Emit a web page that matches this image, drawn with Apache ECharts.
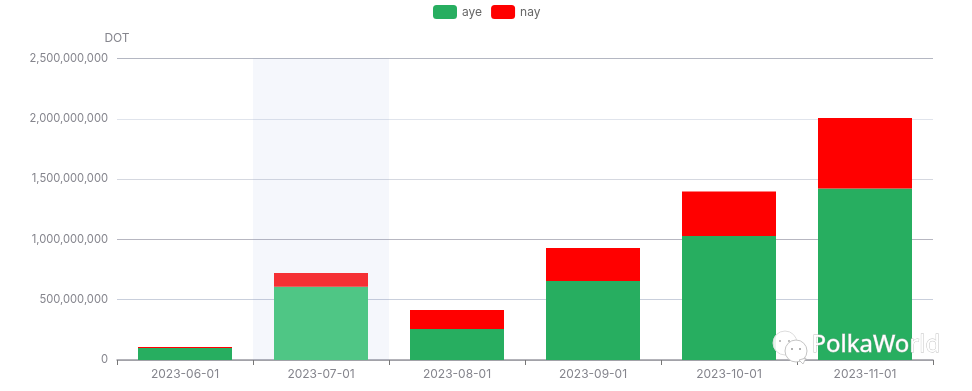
<!DOCTYPE html>
<html>
<head>
<meta charset="utf-8">
<style>
  html, body { margin: 0; padding: 0; background: #fff; }
  #main { width: 972px; height: 391px; }
</style>
<script src="https://cdn.jsdelivr.net/npm/echarts@6/dist/echarts.min.js"></script>
</head>
<body>
<div id="main"></div>
<script>
var categories = ['2023-06-01', '2023-07-01', '2023-08-01', '2023-09-01', '2023-10-01', '2023-11-01'];
var aye = [100000000, 608000000, 257000000, 655000000, 1028000000, 1422000000];
var nay = [8000000, 113000000, 158000000, 274000000, 369000000, 585000000];
var hoverIndex = 1;

var labelColor = '#85858d';
var fontName = 'Inter';

var myChart = echarts.init(document.getElementById('main'));

var option = {
  animation: false,
  textStyle: { fontFamily: fontName },
  tooltip: {
    trigger: 'axis',
    showContent: false,
    transitionDuration: 0,
    axisPointer: { type: 'shadow', shadowStyle: { color: 'rgba(130,155,215,0.08)' } }
  },
  legend: {
    top: 0,
    left: 428,
    itemGap: 9,
    itemWidth: 24,
    textStyle: { color: '#666', fontSize: 12, fontFamily: fontName },
    data: ['aye', 'nay']
  },
  grid: { left: 117, right: 39, top: 58.5, bottom: 31 },
  xAxis: {
    type: 'category',
    data: categories,
    axisLine: { lineStyle: { color: '#9a9aa2', width: 1.5 } },
    axisTick: { show: true, alignWithLabel: false, length: 5, lineStyle: { color: '#777' } },
    axisLabel: { color: labelColor, fontSize: 12, margin: 8, interval: 0 }
  },
  yAxis: {
    type: 'value',
    name: 'DOT',
    min: 0,
    max: 2500000000,
    interval: 500000000,
    nameGap: 14,
    nameTextStyle: { color: labelColor, fontSize: 12 },
    axisLine: { show: false },
    axisTick: { show: false },
    axisLabel: { color: labelColor, fontSize: 11.2, margin: 9 },
    splitLine: { lineStyle: { color: ['#bbb', '#c9cfdc', '#b7b7c1', '#d5d8e0', '#e0e4ec', '#b4b7c2'] } }
  },
  series: [
    {
      name: 'aye',
      type: 'bar',
      stack: 'vote',
      barWidth: 94,
      itemStyle: { color: '#27ae60' },
      emphasis: { itemStyle: { color: '#4bca7e' } },
      data: aye
    },
    {
      name: 'nay',
      type: 'bar',
      stack: 'vote',
      barWidth: 94,
      itemStyle: { color: '#ff0000' },
      emphasis: { itemStyle: { color: '#ff2826' } },
      data: nay
    }
  ],
  // wechat watermark over the corner of the picture
  graphic: [
    { type: 'circle', z: 100, shape: { cx: 785, cy: 343, r: 12 }, style: { fill: 'rgba(255,255,255,0.88)', stroke: '#dcdcdc', lineWidth: 1 } },
    { type: 'circle', z: 101, shape: { cx: 780, cy: 341, r: 1 }, style: { fill: '#aaa' } },
    { type: 'circle', z: 101, shape: { cx: 789, cy: 341, r: 1 }, style: { fill: '#aaa' } },
    { type: 'circle', z: 102, shape: { cx: 796, cy: 351, r: 11 }, style: { fill: '#fff', stroke: '#c4c4c4', lineWidth: 1 } },
    { type: 'polygon', z: 102, shape: { points: [[799, 360], [806, 358], [803, 364]] }, style: { fill: '#fff', stroke: '#c4c4c4', lineWidth: 1 } },
    { type: 'circle', z: 103, shape: { cx: 792, cy: 349, r: 1 }, style: { fill: '#999' } },
    { type: 'circle', z: 103, shape: { cx: 800, cy: 349, r: 1 }, style: { fill: '#999' } },
    {
      type: 'text',
      z: 104,
      left: 811,
      top: 333,
      style: {
        text: 'PolkaWorld',
        fontFamily: 'Noto Sans',
        fontSize: 24,
        fill: '#fff',
        stroke: '#bdbdbd',
        lineWidth: 0.8
      }
    }
  ]
};

myChart.setOption(option);
myChart.dispatchAction({ type: 'showTip', seriesIndex: 0, dataIndex: hoverIndex });
</script>
</body>
</html>
